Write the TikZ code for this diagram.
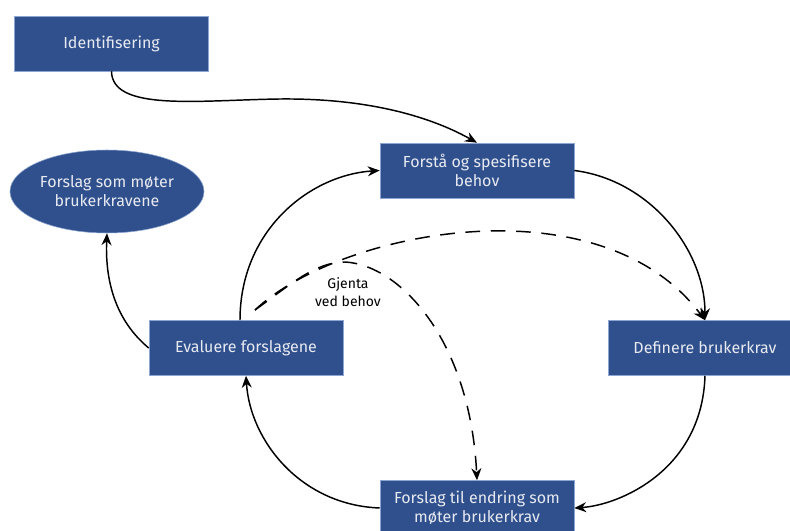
\documentclass[tikz,border=0pt]{standalone}
\usepackage{fontspec}
\setmainfont{Fira Sans}
\usetikzlibrary{arrows.meta,shapes.geometric,calc}
\definecolor{boxblue}{RGB}{47,80,140}
\definecolor{boxedge}{RGB}{140,165,210}
\definecolor{boxtext}{RGB}{232,234,242}
\begin{document}
\begin{tikzpicture}[x=0.75pt,y=-0.75pt,
  stepbox/.style={rectangle,fill=boxblue,draw=boxedge,line width=0.4pt,
    minimum width=145.5pt,minimum height=41.25pt,inner sep=2pt,
    text=boxtext,align=center,font=\fontsize{12}{14.2}\selectfont},
  endell/.style={ellipse,fill=boxblue,draw=boxedge,line width=0.4pt,
    minimum width=145.5pt,minimum height=62.25pt,inner sep=0pt,
    text=boxtext,align=center,font=\fontsize{12}{14.2}\selectfont},
  conn/.style={line width=1.1pt,-{Stealth[length=9pt,width=7.5pt]}},
  dconn/.style={conn,dash pattern=on 11pt off 8pt},
  lbl/.style={align=center,font=\fontsize{10.5}{13.5}\selectfont,text=black}]
\clip (0,0) rectangle (790,531);
\fill[white] (0,0) rectangle (790,531);
\node[stepbox] (ident) at (111.5,43.5) {Identifisering};
\node[stepbox] (forsta) at (477,170.5) {Forstå og spesifisere\\behov};
\node[endell] (ell) at (107,191.5) {Forslag som møter\\brukerkravene};
\node[stepbox] (eval) at (246,348) {Evaluere forslagene};
\node[stepbox] (def) at (705,348) {Definere brukerkrav};
\node[stepbox] (forslag) at (477,508) {Forslag til endring som\\møter brukerkrav};
\node[lbl] (gj) at (348,292) {Gjenta\\ved behov};
\coordinate (ds) at (255,310);
\coordinate (dpeak) at (345,262);
\coordinate (mid) at (280,99);
\draw[conn] (ident.south) .. controls (112,112) and (200,100) .. (mid)
  .. controls (380,98) and (440,122) .. (forsta.north);
\draw[conn] (forsta.east) .. controls (650,180) and (705,250) .. (def.north);
\draw[conn] (def.south) .. controls (702,470) and (620,505) .. (forslag.east);
\draw[conn] (forslag.west) .. controls (300,505) and (250,440) .. (eval.south);
\draw[conn] ($(eval.north)+(-6,0)$) .. controls (240,230) and (310,175) .. (forsta.west);
\draw[conn] (eval.west) .. controls (115,320) and (105,280) .. (ell.south);
\draw[dconn] (ds) .. controls (340,230) and (600,180) .. (def.north);
\draw[dconn] (ds) .. controls (290,285) and (315,262) .. (dpeak)
  .. controls (400,265) and (470,340) .. (forslag.north);
\end{tikzpicture}
\end{document}
